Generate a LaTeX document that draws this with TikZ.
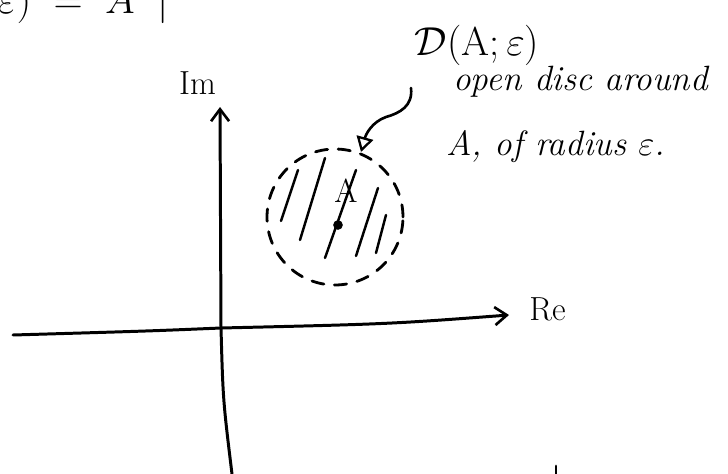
\RequirePackage{fix-cm}
\documentclass[tikz,border=0pt]{standalone}
\usepackage{fontspec}
\usetikzlibrary{arrows.meta,positioning}

\begin{document}
\begin{tikzpicture}[x=0.02cm,y=-0.02cm,
  font=\fontsize{19}{22}\selectfont,
  ink/.style={line width=1.7pt,line cap=round,line join=round},
  axis/.style={ink,-{Straight Barb[length=2.4mm,width=3.6mm,line width=1.5pt]}},
  rim/.style={circle,draw,line width=1.6pt,dash pattern=on 7pt off 6pt,line cap=round,minimum size=2.72cm,inner sep=0pt},
  hatch/.style={line width=1.4pt,line cap=round},
  dot/.style={circle,fill,inner sep=0pt,minimum size=5.5pt},
  lbl/.style={inner sep=0pt},
  note/.style={inner sep=0pt,font=\fontsize{20}{24}\selectfont\itshape},
  curl/.style={ink,line width=1.5pt,-{Triangle[open,length=3mm,width=3.4mm,line width=1.3pt]}}
]
\useasboundingbox (0,0) rectangle (728,474);
% axes of the complex plane
\coordinate (o) at (221,328);
\coordinate (imtip) at (220,107);
\coordinate (imfoot) at (232,474);
\coordinate (retail) at (13,335);
\coordinate (retip) at (509,315);
\draw[axis] (imfoot) .. controls (223,400) .. (o) -- (imtip);
\draw[axis] (retail) .. controls (150,331) .. (o) .. controls (390,324) .. (retip);
\node[lbl,above=0.25cm of imtip,xshift=-0.45cm] (im) {Im};
\node[lbl,right=0.4cm of retip,yshift=3pt] (re) {Re};
% the disc with its hatching
\node[rim] (disc) at (335,217) {};
\foreach \xa/\ya/\xb/\yb in {298/170/281/221,325/158/300/240,356/170/325/258,378/188/356/256,386/215/376/253}
  \draw[hatch] (\xa,\ya) -- (\xb,\yb);
\node[dot] (a) at (338,225) {};
\node[lbl] (alabel) at (346,191) {A};
% name of the disc and its description
\node[lbl,font=\fontsize{23}{26}\selectfont] (dname) at (477,45) {$\mathcal{D}$(A;\,$\varepsilon$)};
\node[note,anchor=base west] (desc1) at (453,90) {open disc around};
\node[note,anchor=base west] (desc2) at (446,155) {A, of radius $\varepsilon$.};
\coordinate (cstart) at (411,88);
\coordinate (ctip) at (361,152);
\draw[curl] (cstart) .. controls (413,106) and (400,113) .. (386,117) .. controls (372,122) and (366,134) .. (ctip);
% cut-off bits of the page above and below
\begin{scope}
\clip (0,0) rectangle (728,474);
\node[lbl,anchor=base west,font=\fontsize{23}{26}\selectfont] (cut) at (-2,13) {$\varepsilon)\;=\;A\;\;|$};
\draw[ink] (556,466) -- (556,478);
\end{scope}
\end{tikzpicture}
\end{document}
